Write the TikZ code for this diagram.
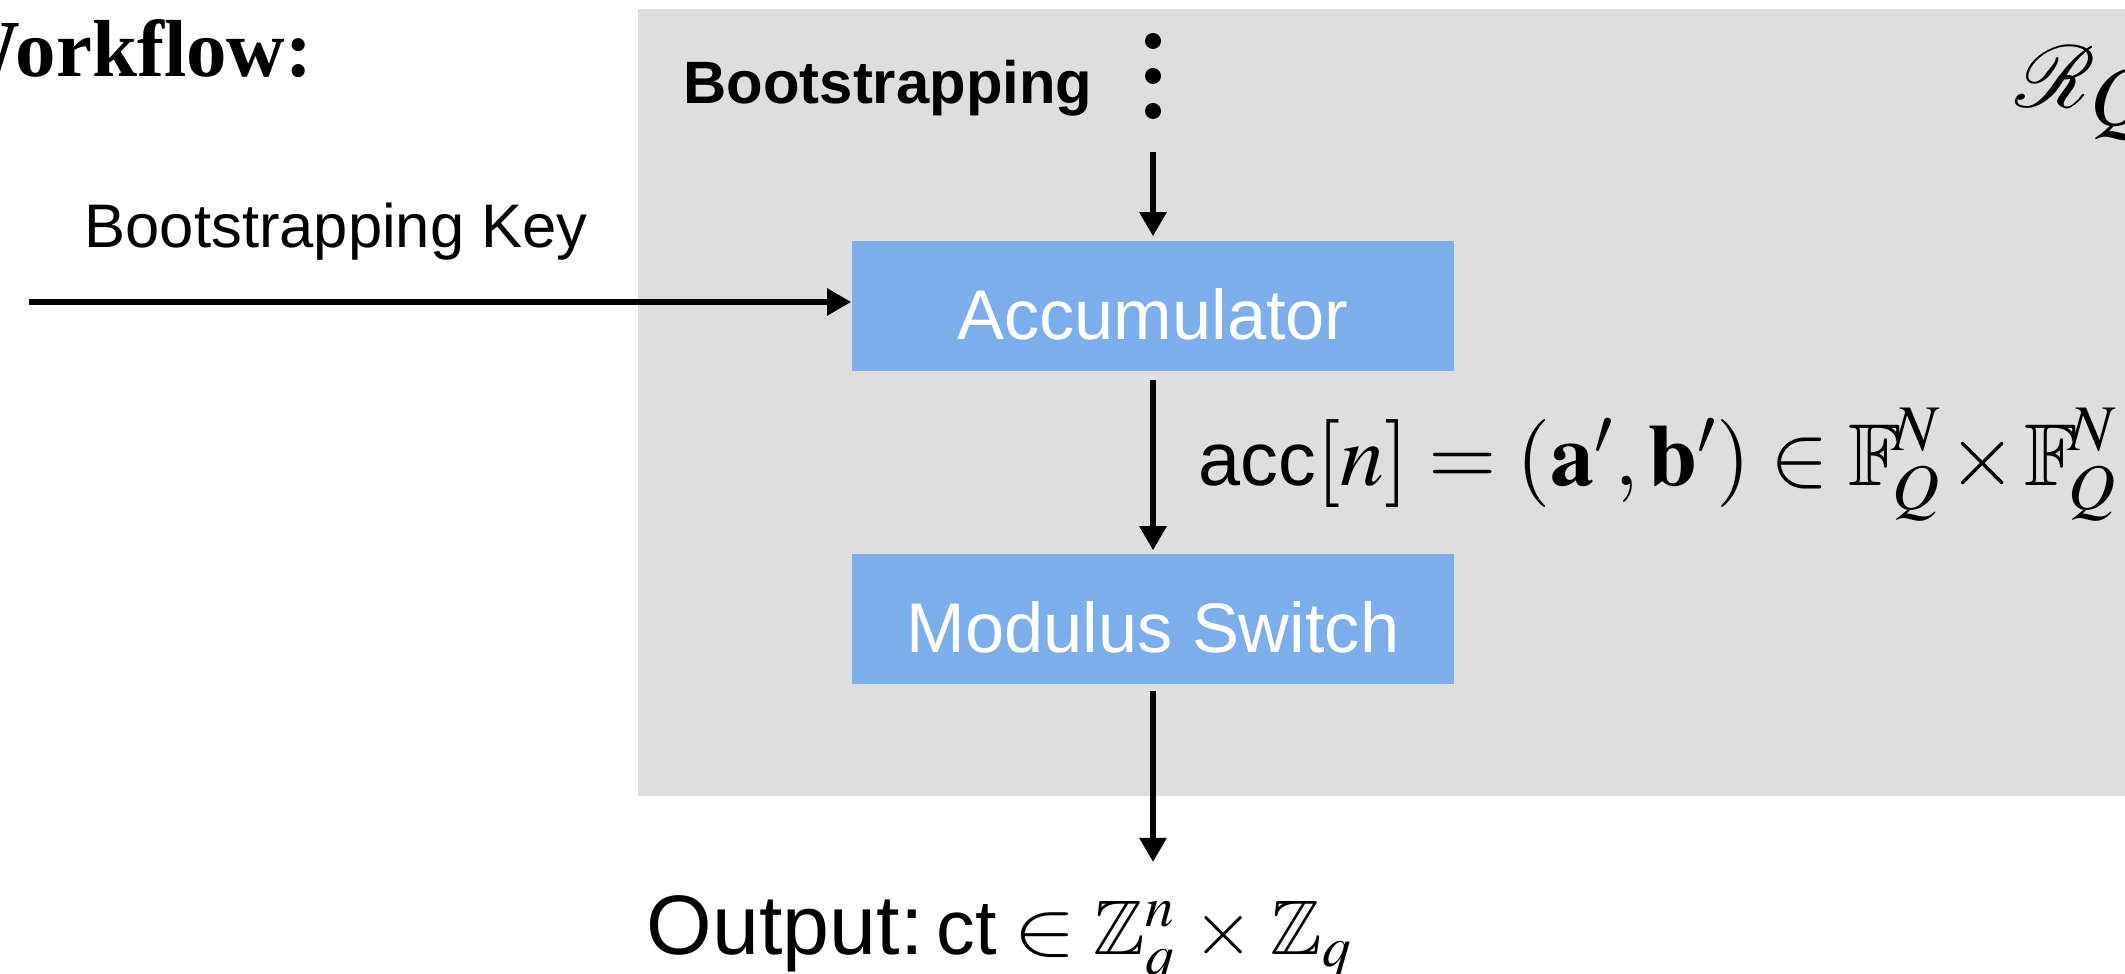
\documentclass[tikz,border=0pt]{standalone}
\usepackage{amsmath,amssymb}
\usepackage{mathptmx}
\usepackage{mathrsfs}
\usepackage[no-math]{fontspec}
\setmainfont{Liberation Sans}
\setsansfont{Liberation Sans}
\newfontfamily\headfont{Liberation Serif}
\usetikzlibrary{arrows.meta}
\definecolor{panelgray}{HTML}{DEDEDE}
\definecolor{stageblue}{HTML}{7DAEEC}
% a slightly wider membership sign
\newcommand{\widein}{\mathrel{\scalebox{1.22}[1]{$\in$}}}
\tikzset{
  stagebox/.style={fill=stageblue, text=white, minimum width=6.02cm,
    minimum height=1.30cm, inner sep=0pt, text height=0.66cm, text depth=0pt,
    font=\fontsize{20}{24}\selectfont},
  flow/.style={line width=1.6pt, -{Triangle[length=0.24cm,width=0.26cm]}},
  dotmark/.style={circle, fill=black, inner sep=0pt, minimum size=0.16cm},
  txt/.style={inner sep=0pt, anchor=base west},
}
\begin{document}
\begin{tikzpicture}[x=0.01cm, y=-0.01cm]
  \clip (0,0) rectangle (2125,974);
  \fill[white] (0,0) rectangle (2125,974);

  % bootstrapping panel
  \fill[panelgray] (638,9) rectangle (2200,796);

  % heading
  \node[inner sep=0pt, anchor=base east] (title) at (313,77)
    {\headfont\bfseries\fontsize{23}{28}\selectfont Workflow:};

  \node[txt] (bslabel) at (683,104)
    {\bfseries\fontsize{17}{20}\selectfont Bootstrapping};

  \node[txt] (ring) at (2015,108)
    {\fontsize{32}{38}\selectfont$\mathscr{R}_{\mbox{\fontsize{24}{28}\selectfont$Q$}}$};

  % continuation dots
  \node[dotmark] (dot1) at (1153,41) {};
  \node[dotmark] (dot2) at (1153,76) {};
  \node[dotmark] (dot3) at (1153,111) {};

  % stages
  \node[stagebox] (acc) at (1153,306) {Accumulator};
  \node[stagebox] (ms)  at (1153,619) {Modulus Switch};

  % key input
  \node[txt] (keylabel) at (84,248)
    {\fontsize{17.5}{21}\selectfont Bootstrapping Key};
  \coordinate (keystart) at (29,302);

  % flow
  \coordinate (feed) at (1153,152);
  \coordinate (outtip) at (1153,862);
  \draw[flow, shorten >=0.04cm] (feed) -- (acc.north);
  \draw[flow] (keystart) -- (keystart -| acc.west);
  \draw[flow, shorten <=0.08cm, shorten >=0.03cm] (acc.south) -- (ms.north);
  \draw[flow, shorten <=0.06cm] (ms.south) -- (outtip);

  % intermediate value
  \node[txt] (accval) at (1198,486)
    {\fontsize{25}{30}\selectfont\medmuskip=1.5mu
     $\mbox{\fontsize{21.5}{25}\selectfont acc}[n] = (\mathbf{a}', \mathbf{b}') \in
      {\mathbb{F}\!}_Q^N \times {\mathbb{F}\!}_Q^N$};

  % result
  \node[txt] (out) at (646,955)
    {{\fontsize{24}{29}\selectfont Output:} {\fontsize{22}{26}\selectfont\medmuskip=4mu
     $\mbox{ct} \widein \mathbb{Z}_q^n \times \mathbb{Z}_q$}};
\end{tikzpicture}
\end{document}
